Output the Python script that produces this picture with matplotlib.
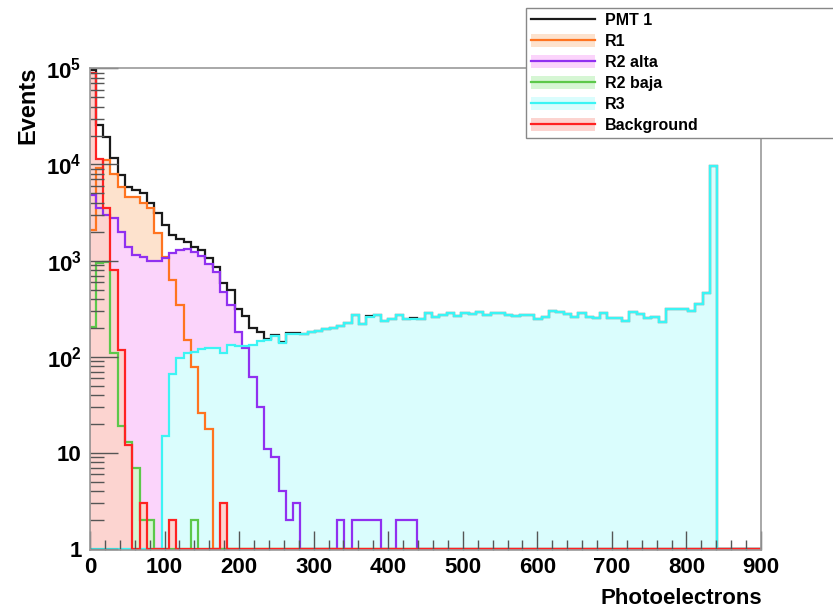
""" Photoelectron spectrum of PMT 1 split by region (R1, R2 alta, R2 baja, R3)
plus background, log scale, drawn in a ROOT-like style. """

import numpy as np
import matplotlib
matplotlib.use('Agg')
import matplotlib.pyplot as plt
from matplotlib.lines import Line2D
from matplotlib.patches import Patch
from matplotlib.ticker import LogLocator, MultipleLocator, NullFormatter


""" DATA """

# Histogram binning (photoelectrons)
x_lo, x_hi, n_bins = -2, 900, 92

# Bin contents, first bins first (missing tail = 0 events)
pmt1 = [95000, 25700, 19100, 11700, 7800, 5900, 5450, 5000, 4000, 3100,
        2350, 1850, 1700, 1580, 1400, 1290, 1060, 870, 580, 495,
        318, 265, 198, 180, 153, 170, 142, 176, 177, 175,
        180, 187, 196, 201, 211, 225, 275, 220, 265, 273,
        238, 246, 274, 250, 252, 250, 284, 262, 271, 284,
        266, 288, 281, 293, 271, 284, 284, 275, 268, 273,
        273, 250, 262, 302, 291, 279, 260, 284, 258, 253,
        284, 256, 256, 235, 296, 281, 255, 258, 230, 313,
        313, 313, 298, 355, 465, 9660]

r1 = [2090, 9100, 11200, 8000, 5800, 4600, 4600, 3960, 3500, 1950,
      1080, 630, 350, 150, 78, 26, 18]

r2_alta = [4800, 3500, 2990, 2760, 2000, 1400, 1145, 1100, 1000, 1000,
           1060, 1210, 1300, 1335, 1230, 1130, 920, 770, 475, 346,
           183, 125, 62, 30, 11, 9, 4, 2, 3, 0,
           0, 0, 0, 0, 2, 0, 2, 2, 2, 2,
           0, 0, 2, 2, 2]

r2_baja = [206, 950, 980, 110, 19, 13, 7, 2, 2, 0,
           0, 0, 0, 0, 2]

r3 = [0, 0, 0, 0, 0, 0, 0, 0, 0, 0,
      15, 66, 98, 109, 113, 120, 124, 125, 110, 133,
      130, 130, 133, 148, 150, 166, 140, 174, 174, 175,
      180, 187, 194, 201, 209, 223, 272, 218, 262, 271,
      238, 246, 271, 248, 250, 250, 284, 262, 271, 284,
      266, 288, 281, 293, 271, 284, 284, 275, 268, 273,
      273, 250, 262, 302, 291, 279, 260, 284, 258, 253,
      284, 256, 256, 235, 296, 281, 255, 258, 230, 313,
      313, 313, 298, 355, 465, 9660]

background = [90000, 11500, 3500, 800, 118, 12, 0, 3, 0, 0,
              0, 2, 0, 0, 0, 0, 0, 0, 3]

labels = ['PMT 1', 'R1', 'R2 alta', 'R2 baja', 'R3', 'Background']


def full(values):
    """ Pad a list of bin contents with empty bins up to n_bins """
    arr = np.zeros(n_bins)
    arr[:len(values)] = values
    return arr


""" PLOT """


def plot():
    plt.rcParams['font.family'] = ['Liberation Sans', 'DejaVu Sans']
    plt.rcParams['font.weight'] = 'bold'
    plt.rcParams['mathtext.fontset'] = 'custom'
    plt.rcParams['mathtext.default'] = 'bf'
    plt.rcParams['mathtext.bf'] = 'Liberation Sans:bold'
    plt.rcParams['mathtext.rm'] = 'Liberation Sans:bold'

    edges = np.linspace(x_lo, x_hi, n_bins + 1)
    ymin = 1

    # (values, line colour, fill colour or None)
    series = [
        (pmt1, '#1a1a1a', None),
        (r1, '#ff7420', '#fde2cd'),
        (r2_alta, '#9030f0', '#fbd4fb'),
        (r2_baja, '#5cc84a', '#d6f6d4'),
        (r3, '#3cf4f4', '#dafdfd'),
        (background, '#ff2222', '#fcd4d0'),
    ]

    fig = plt.figure(figsize=(8.33, 6.10), dpi=100)
    ax = fig.add_axes([90 / 833, (610 - 550.3) / 610, 671 / 833, 482 / 610])
    ax.set_yscale('log')

    # Fills first (in drawing order), then all outlines on top
    for values, line_color, fill_color in series:
        if fill_color is None:
            continue
        vals = np.clip(full(values), ymin, None)
        ax.stairs(vals, edges, baseline=ymin, fill=True, color=fill_color, lw=0)

    for values, line_color, fill_color in series:
        vals = np.clip(full(values), ymin, None)
        ax.stairs(vals, edges, baseline=ymin, color=line_color, lw=1.6)

    ax.set_xlim(0, 900)
    # a hair below 1 so the zero-level outlines are not cut in half
    ax.set_ylim(0.976, 1e5)

    # Axis ticks, ROOT style (inside, bold labels)
    ax.set_xticks(range(0, 901, 100))
    ax.xaxis.set_minor_locator(MultipleLocator(20))
    ax.set_yticks([1, 10, 100, 1e3, 1e4, 1e5],
                  ['1', '10', r'$10^{2}$', r'$10^{3}$', r'$10^{4}$', r'$10^{5}$'])
    ax.yaxis.set_minor_locator(LogLocator(base=10, subs=np.arange(2, 10)))
    ax.yaxis.set_minor_formatter(NullFormatter())

    ax.tick_params(which='both', direction='in', color='#555555', width=1,
                   labelsize=16, top=False, right=False)
    ax.tick_params(axis='x', which='major', length=14, pad=5)
    ax.tick_params(axis='x', which='minor', length=7)
    ax.tick_params(axis='y', which='major', length=20, pad=6)
    ax.tick_params(axis='y', which='minor', length=10)
    for lab in ax.get_xticklabels() + ax.get_yticklabels():
        lab.set_fontweight('bold')

    for spine in ax.spines.values():
        spine.set_color('#999999')
        spine.set_linewidth(1.2)

    fig.text(28 / 833, 1 - 105 / 610, 'Events', rotation=90, ha='center',
             va='center', fontsize=17, fontweight='bold')
    fig.text(762 / 833, 1 - 598 / 610, 'Photoelectrons', ha='right',
             va='center', fontsize=16, fontweight='bold')

    # Legend: line for PMT 1, fill box + line for the others
    handles = []
    for values, line_color, fill_color in series:
        line = Line2D([], [], color=line_color, lw=1.6)
        if fill_color is None:
            handles.append(line)
        else:
            handles.append((Patch(facecolor=fill_color, edgecolor='none'), line))

    leg = ax.legend(handles, labels, loc='upper left', mode='expand',
                    bbox_to_anchor=(526 / 833, 1 - 137 / 610, 312 / 833, 129 / 610),
                    bbox_transform=fig.transFigure, prop={'weight': 'bold', 'size': 11.5},
                    handlelength=4.0, handleheight=0.9, handletextpad=0.6,
                    labelspacing=0.36, borderpad=0.32, borderaxespad=0,
                    fancybox=False, framealpha=1, edgecolor='#888888')
    leg.get_frame().set_linewidth(1.0)
    leg.set_clip_on(False)

    plt.savefig('out.png', dpi=100)
    plt.close()


if __name__ == '__main__':
    plot()
